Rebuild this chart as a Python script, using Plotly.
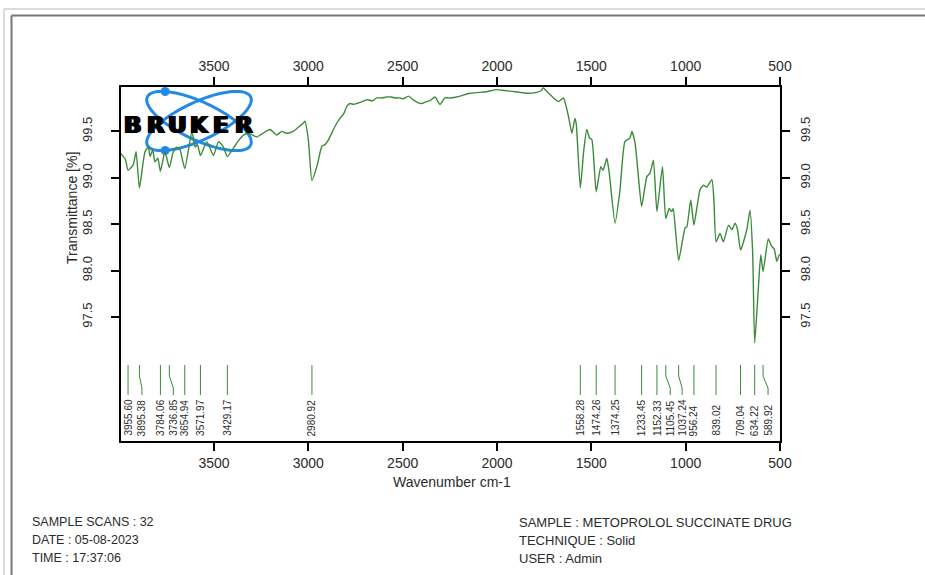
import math
import plotly.graph_objects as go

# ---------------- spectrum data ----------------
wavenumber = [
    3993, 3970, 3955.60, 3928, 3913, 3895.38, 3866, 3848, 3839, 3825, 3813, 3798,
    3784.06, 3760, 3736.85, 3716, 3698, 3680, 3654.94, 3617, 3600, 3588, 3571.97,
    3538, 3503, 3476, 3450, 3429.17, 3397, 3370, 3344, 3317, 3295, 3273, 3240,
    3203, 3168, 3141, 3115, 3080, 3050, 3026, 3018, 3000, 2980.92, 2955, 2928,
    2910, 2893, 2867, 2849, 2832, 2810, 2796, 2779, 2760, 2743, 2715, 2690, 2660,
    2637, 2610, 2585, 2560, 2540, 2514, 2497, 2470, 2444, 2420, 2400, 2375, 2355,
    2329, 2302, 2276, 2245, 2213, 2180, 2143, 2090, 2050, 2002, 1960, 1913, 1880,
    1843, 1790, 1765, 1754, 1745, 1720, 1701, 1674, 1648, 1635, 1621, 1603, 1587,
    1580, 1558.28, 1540, 1524, 1510, 1497, 1474.26, 1450, 1438, 1418, 1405,
    1374.25, 1348, 1322, 1295, 1285, 1268, 1250, 1233.45, 1206, 1189, 1171,
    1152.33, 1123, 1105.45, 1087, 1074, 1066, 1037.24, 1003, 994, 973, 956.24,
    924, 906, 888, 861, 850, 839.02, 818, 800, 773, 755, 738, 725, 709.04, 676,
    659, 645, 634.22, 615, 602, 589.92, 562, 544, 530, 517, 504, 500,
]
transmittance = [
    99.26, 99.20, 99.08, 99.14, 99.28, 98.89, 99.28, 99.33, 99.23, 99.30, 99.17, 99.21,
    99.07, 99.28, 99.11, 99.28, 99.33, 99.30, 99.10, 99.50, 99.33, 99.36, 99.24,
    99.39, 99.24, 99.39, 99.33, 99.23, 99.32, 99.40, 99.46, 99.48, 99.46, 99.44, 99.48,
    99.52, 99.46, 99.50, 99.48, 99.50, 99.55, 99.59, 99.61, 99.41, 98.97, 99.12, 99.34,
    99.36, 99.41, 99.52, 99.59, 99.64, 99.70, 99.77, 99.80, 99.79, 99.80, 99.82, 99.84, 99.83,
    99.86, 99.86, 99.87, 99.87, 99.86, 99.86, 99.85, 99.88, 99.84, 99.81, 99.80, 99.82, 99.83,
    99.87, 99.79, 99.86, 99.86, 99.87, 99.89, 99.91, 99.92, 99.93, 99.95, 99.94, 99.93, 99.92,
    99.91, 99.92, 99.94, 99.97, 99.95, 99.90, 99.86, 99.82, 99.86, 99.78, 99.66, 99.48, 99.64,
    99.58, 98.89, 99.30, 99.52, 99.43, 99.41, 98.85, 99.12, 99.08, 99.21, 99.05,
    98.51, 98.87, 99.39, 99.43, 99.50, 99.37, 99.00, 98.69, 99.01, 99.05, 99.19,
    98.635, 99.12, 98.56, 98.67, 98.635, 98.67, 98.11, 98.46, 98.47, 98.76, 98.49,
    98.87, 98.92, 98.90, 98.98, 98.75, 98.31, 98.40, 98.31, 98.49, 98.44, 98.51, 98.44, 98.22, 98.44,
    98.65, 98.20, 97.22, 97.80, 98.17, 97.99, 98.34, 98.26, 98.23, 98.10, 98.17, 98.16,
]

peak_wavenumbers = [
    3955.60, 3895.38, 3784.06, 3736.85, 3654.94, 3571.97, 3429.17, 2980.92,
    1558.28, 1474.26, 1374.25, 1233.45, 1152.33, 1105.45, 1037.24, 956.24,
    839.02, 709.04, 634.22, 589.92,
]
peak_labels = [f"{v:.2f}" for v in peak_wavenumbers]

x_ticks = [3500, 3000, 2500, 2000, 1500, 1000, 500]
y_ticks = [97.5, 98.0, 98.5, 99.0, 99.5]
y_tick_text = [f"{v:.1f}" for v in y_ticks]

info_left = ["SAMPLE SCANS : 32", "DATE : 05-08-2023", "TIME : 17:37:06"]
info_right = ["SAMPLE : METOPROLOL SUCCINATE DRUG", "TECHNIQUE : Solid", "USER : Admin"]

# ---------------- geometry ----------------
FIG_W, FIG_H = 925, 575
L, R, T, B = 121, 780, 87, 441          # plot area in pixels
W, H = R - L, B - T
X_RANGE = [3993, 500]
Y_RANGE = [96.164, 99.978]

def px2x(px):
    return (px - L) / W

def py2y(py):
    return (B - py) / H

def py_to_T(py):
    return Y_RANGE[1] - (py - T) / H * (Y_RANGE[1] - Y_RANGE[0])

WN_PER_PX = (X_RANGE[0] - X_RANGE[1]) / W

LINE_GREEN = "#3b8b3b"
FONT = "Liberation Sans, Arial, sans-serif"
TXT = "#2b2b2b"

fig = go.Figure()

# main spectrum
fig.add_trace(go.Scatter(
    x=wavenumber, y=transmittance, mode="lines",
    line=dict(color=LINE_GREEN, width=1.4, shape="spline", smoothing=0.5),
    hoverinfo="skip", showlegend=False,
))

# peak markers: short lines, some bent sideways to make room for labels
nudge_px = {3895.38: 2.5, 3736.85: 4.0, 1105.45: 4.5, 1037.24: 3.5, 589.92: 5.0}
seg_x, seg_y = [], []
label_x = []
for wn in peak_wavenumbers:
    shift = nudge_px.get(wn, 0.0) * WN_PER_PX
    lx = wn - shift
    label_x.append(lx)
    seg_x += [wn, wn, lx, lx, None]
    seg_y += [py_to_T(365), py_to_T(376), py_to_T(388), py_to_T(395), None]
fig.add_trace(go.Scatter(
    x=seg_x, y=seg_y, mode="lines",
    line=dict(color=LINE_GREEN, width=1), hoverinfo="skip", showlegend=False,
))

# dummy trace so the top/right axes are drawn
fig.add_trace(go.Scatter(
    x=[X_RANGE[1]], y=[Y_RANGE[0]], xaxis="x2", yaxis="y2", mode="markers",
    marker=dict(opacity=0), hoverinfo="skip", showlegend=False,
))

annotations = []
for lx, txt in zip(label_x, peak_labels):
    annotations.append(dict(
        x=lx, y=py_to_T(438), xref="x", yref="y", text=txt, showarrow=False,
        textangle=-90, xanchor="center", yanchor="bottom",
        font=dict(family=FONT, size=10, color=TXT),
    ))

# axis titles
annotations.append(dict(
    x=px2x(452), y=py2y(482), xref="paper", yref="paper", text="Wavenumber cm-1",
    showarrow=False, xanchor="center", yanchor="middle",
    font=dict(family=FONT, size=14, color=TXT),
))
annotations.append(dict(
    x=px2x(72), y=py2y(208), xref="paper", yref="paper", text="Transmittance [%]",
    showarrow=False, textangle=-90, xanchor="center", yanchor="middle",
    font=dict(family=FONT, size=14, color=TXT),
))

# acquisition info
for i, (a, b) in enumerate(zip(info_left, info_right)):
    yy = py2y(522 + 18 * i)
    annotations.append(dict(x=px2x(30), y=yy, xref="paper", yref="paper", text=a,
                            showarrow=False, xanchor="left", yanchor="middle",
                            font=dict(family=FONT, size=12.5, color=TXT)))
    annotations.append(dict(x=px2x(517), y=yy, xref="paper", yref="paper", text=b,
                            showarrow=False, xanchor="left", yanchor="middle",
                            font=dict(family=FONT, size=13, color=TXT)))

# logo lettering: heavy, widely set capitals (text-shadow thickens the strokes)
for ch, cx in zip("BRUKER", [133, 155.5, 177.5, 199.5, 221, 243.5]):
    annotations.append(dict(x=px2x(cx), y=py2y(124.5), xref="paper", yref="paper",
                            text=f"<b>{ch}</b>", showarrow=False,
                            xanchor="center", yanchor="middle",
                            font=dict(family="DejaVu Sans, Arial Black, sans-serif",
                                      size=23, color="#000000",
                                      shadow="1.2px 0 0 #000, -1.2px 0 0 #000")))

shapes = []
# logo orbits: two tilted ellipses
LOGO_BLUE = "#2389e6"
cx0, cy0, ea, eb = 199, 121, 57, 19
def ellipse_point(t, th):
    x = ea * math.cos(t) * math.cos(th) - eb * math.sin(t) * math.sin(th)
    y = ea * math.cos(t) * math.sin(th) + eb * math.sin(t) * math.cos(th)
    return cx0 + x, cy0 + y

for th_deg in (25, -25):
    th = math.radians(th_deg)
    pts = [ellipse_point(2 * math.pi * k / 96, th) for k in range(96)]
    path = "M " + " L ".join(f"{px2x(x):.5f},{py2y(y):.5f}" for x, y in pts) + " Z"
    shapes.append(dict(type="path", path=path, xref="paper", yref="paper",
                       line=dict(color=LOGO_BLUE, width=3), layer="below"))

# nuclei dots on the orbits
for th_deg, target in ((25, (168, 94)), (-25, (168, 148))):
    th = math.radians(th_deg)
    dx, dy = target[0] - cx0, target[1] - cy0
    A = dx * math.cos(th) + dy * math.sin(th)
    Bv = -dx * math.sin(th) + dy * math.cos(th)
    t = math.atan2(Bv / eb, A / ea)
    x, y = ellipse_point(t, th)
    r = 4.5
    shapes.append(dict(type="circle", xref="paper", yref="paper",
                       x0=px2x(x - r), x1=px2x(x + r), y0=py2y(y + r), y1=py2y(y - r),
                       fillcolor=LOGO_BLUE, line=dict(width=0), layer="below"))

# page frame (light outer line, darker inner line)
shapes += [
    dict(type="line", xref="paper", yref="paper", x0=px2x(4), x1=px2x(930),
         y0=py2y(9), y1=py2y(9), line=dict(color="#cfcfcf", width=1.5)),
    dict(type="line", xref="paper", yref="paper", x0=px2x(4), x1=px2x(4),
         y0=py2y(9), y1=py2y(580), line=dict(color="#cfcfcf", width=1.5)),
    dict(type="line", xref="paper", yref="paper", x0=px2x(11.5), x1=px2x(930),
         y0=py2y(15.5), y1=py2y(15.5), line=dict(color="#777777", width=2)),
    dict(type="line", xref="paper", yref="paper", x0=px2x(11.5), x1=px2x(11.5),
         y0=py2y(15.5), y1=py2y(580), line=dict(color="#777777", width=2)),
]

axis_common = dict(
    showline=True, linecolor="black", linewidth=2, ticks="outside", ticklen=8,
    tickwidth=2, tickcolor="black", showgrid=False, zeroline=False,
    tickfont=dict(family=FONT, size=14, color=TXT),
)
y_font = dict(family=FONT, size=13, color=TXT)

fig.update_layout(
    width=FIG_W, height=FIG_H, autosize=False,
    margin=dict(l=L, r=FIG_W - R, t=T, b=FIG_H - B, pad=0),
    paper_bgcolor="white", plot_bgcolor="rgba(0,0,0,0)",
    showlegend=False,
    xaxis=dict(range=X_RANGE, tickvals=x_ticks, **axis_common),
    xaxis2=dict(range=X_RANGE, tickvals=x_ticks, overlaying="x", side="top",
                **axis_common),
    yaxis=dict(range=Y_RANGE, tickvals=y_ticks, ticktext=y_tick_text, tickangle=-90,
               ticklabelstandoff=14, **{**axis_common, "tickfont": y_font}),
    yaxis2=dict(range=Y_RANGE, tickvals=y_ticks, ticktext=y_tick_text, tickangle=-90,
                overlaying="y", side="right", ticklabelstandoff=4,
                **{**axis_common, "tickfont": y_font}),
    annotations=annotations,
    shapes=shapes,
)

fig.write_html("out.html")
